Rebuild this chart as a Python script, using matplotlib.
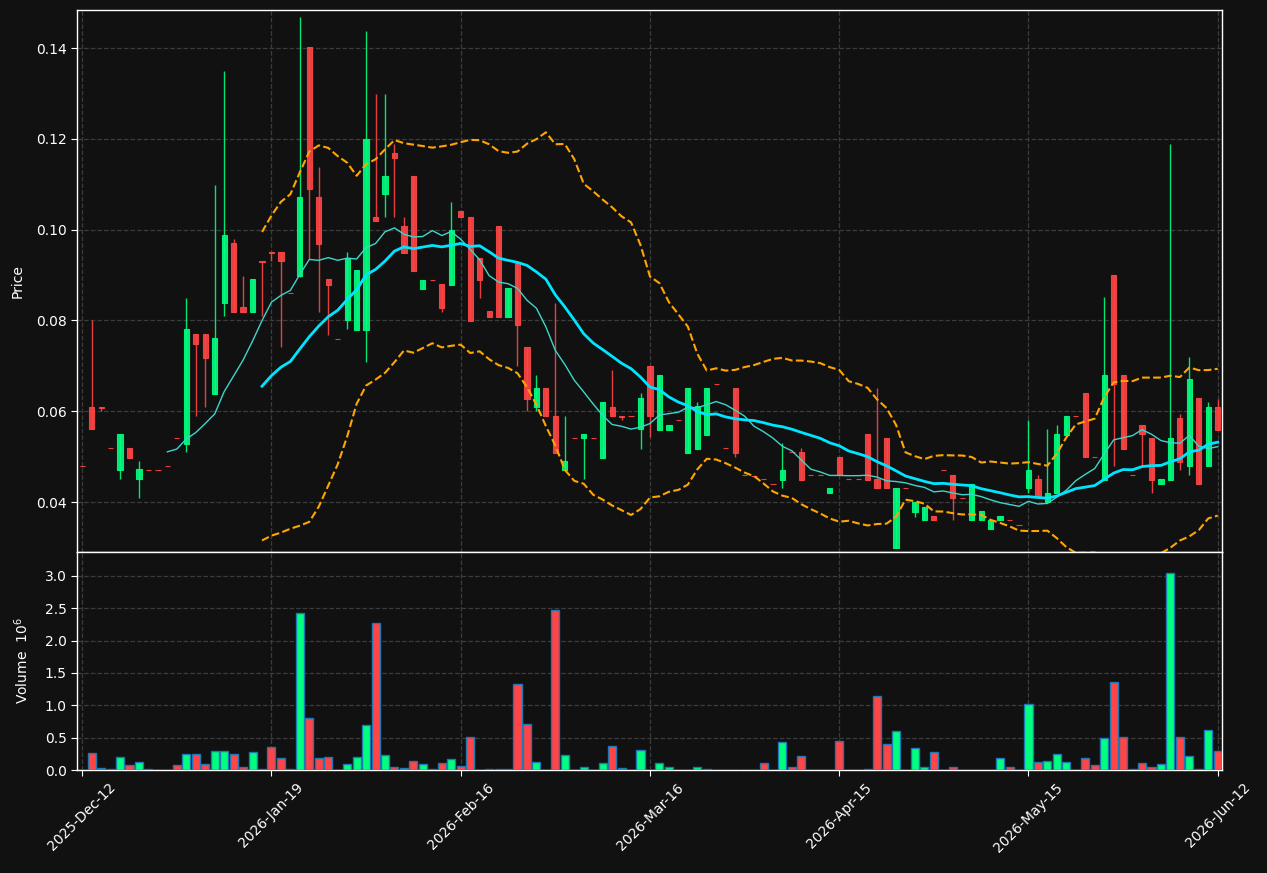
import numpy as np
import pandas as pd
import matplotlib
matplotlib.use("Agg")
import matplotlib.pyplot as plt

# OHLC (price) and volume (millions), one entry per session
opens = [0.0480, 0.0610, 0.0609, 0.0519, 0.0470, 0.0520, 0.0450, 0.0471, 0.0471, 0.0479,
         0.0541, 0.0529, 0.0770, 0.0770, 0.0639, 0.0839, 0.0970, 0.0830, 0.0819, 0.0931,
         0.0950, 0.0950, 0.0860, 0.0899, 0.1402, 0.1071, 0.0891, 0.0760, 0.0800, 0.0779,
         0.0779, 0.1029, 0.1079, 0.1170, 0.1008, 0.1118, 0.0870, 0.0890, 0.0880, 0.0879,
         0.1041, 0.1029, 0.0938, 0.0821, 0.1008, 0.0808, 0.0928, 0.0741, 0.0609, 0.0651,
         0.0590, 0.0470, 0.0541, 0.0541, 0.0541, 0.0498, 0.0610, 0.0590, 0.0590, 0.0560,
         0.0699, 0.0559, 0.0559, 0.0581, 0.0509, 0.0517, 0.0548, 0.0660, 0.0519, 0.0652,
         0.0459, 0.0457, 0.0450, 0.0440, 0.0449, 0.0511, 0.0511, 0.0459, 0.0459, 0.0419,
         0.0500, 0.0451, 0.0451, 0.0550, 0.0451, 0.0542, 0.0298, 0.0431, 0.0379, 0.0360,
         0.0370, 0.0470, 0.0459, 0.0409, 0.0360, 0.0360, 0.0341, 0.0360, 0.0360, 0.0349,
         0.0430, 0.0451, 0.0400, 0.0419, 0.0548, 0.0590, 0.0640, 0.0499, 0.0449, 0.0901,
         0.0680, 0.0459, 0.0570, 0.0542, 0.0439, 0.0449, 0.0585, 0.0479, 0.0630, 0.0479,
         0.0610]
highs = [0.0480, 0.0800, 0.0609, 0.0519, 0.0550, 0.0520, 0.0491, 0.0471, 0.0471, 0.0479,
         0.0541, 0.0850, 0.0770, 0.0770, 0.1099, 0.1349, 0.0980, 0.0899, 0.0891, 0.0931,
         0.0950, 0.0950, 0.0860, 0.1468, 0.1402, 0.1138, 0.0891, 0.0760, 0.0950, 0.0911,
         0.1438, 0.1299, 0.1299, 0.1188, 0.1028, 0.1118, 0.0890, 0.0890, 0.0880, 0.1060,
         0.1041, 0.1029, 0.0938, 0.0821, 0.1008, 0.0871, 0.0928, 0.0741, 0.0680, 0.0651,
         0.0838, 0.0590, 0.0541, 0.0550, 0.0541, 0.0621, 0.0690, 0.0590, 0.0590, 0.0640,
         0.0699, 0.0680, 0.0570, 0.0581, 0.0652, 0.0620, 0.0652, 0.0660, 0.0519, 0.0652,
         0.0459, 0.0457, 0.0450, 0.0440, 0.0530, 0.0511, 0.0519, 0.0459, 0.0459, 0.0432,
         0.0500, 0.0451, 0.0451, 0.0550, 0.0651, 0.0542, 0.0432, 0.0431, 0.0401, 0.0390,
         0.0370, 0.0470, 0.0459, 0.0409, 0.0440, 0.0380, 0.0360, 0.0370, 0.0360, 0.0349,
         0.0581, 0.0459, 0.0561, 0.0570, 0.0590, 0.0590, 0.0640, 0.0499, 0.0851, 0.0901,
         0.0680, 0.0459, 0.0570, 0.0542, 0.0451, 0.1189, 0.0595, 0.0719, 0.0630, 0.0620,
         0.0628]
lows = [0.0480, 0.0560, 0.0600, 0.0519, 0.0451, 0.0498, 0.0409, 0.0471, 0.0471, 0.0479,
        0.0541, 0.0510, 0.0590, 0.0609, 0.0639, 0.0810, 0.0819, 0.0819, 0.0819, 0.0810,
        0.0931, 0.0741, 0.0860, 0.0895, 0.0936, 0.0819, 0.0769, 0.0760, 0.0781, 0.0779,
        0.0709, 0.1019, 0.1028, 0.1028, 0.0949, 0.0909, 0.0870, 0.0890, 0.0819, 0.0879,
        0.1028, 0.0798, 0.0850, 0.0808, 0.0808, 0.0808, 0.0699, 0.0600, 0.0600, 0.0589,
        0.0508, 0.0470, 0.0541, 0.0451, 0.0541, 0.0498, 0.0589, 0.0581, 0.0590, 0.0518,
        0.0543, 0.0559, 0.0559, 0.0581, 0.0509, 0.0517, 0.0548, 0.0660, 0.0519, 0.0499,
        0.0459, 0.0457, 0.0450, 0.0440, 0.0430, 0.0511, 0.0449, 0.0459, 0.0459, 0.0419,
        0.0459, 0.0451, 0.0451, 0.0449, 0.0430, 0.0430, 0.0298, 0.0431, 0.0368, 0.0360,
        0.0360, 0.0470, 0.0360, 0.0409, 0.0360, 0.0360, 0.0341, 0.0360, 0.0360, 0.0349,
        0.0419, 0.0412, 0.0400, 0.0419, 0.0548, 0.0590, 0.0499, 0.0499, 0.0449, 0.0479,
        0.0518, 0.0459, 0.0479, 0.0419, 0.0439, 0.0449, 0.0470, 0.0459, 0.0439, 0.0479,
        0.0559]
closes = [0.0480, 0.0560, 0.0607, 0.0519, 0.0550, 0.0498, 0.0472, 0.0471, 0.0471, 0.0479,
          0.0541, 0.0781, 0.0749, 0.0718, 0.0761, 0.0989, 0.0819, 0.0819, 0.0891, 0.0929,
          0.0948, 0.0930, 0.0860, 0.1071, 0.1089, 0.0969, 0.0879, 0.0760, 0.0938, 0.0911,
          0.1200, 0.1019, 0.1118, 0.1157, 0.0949, 0.0909, 0.0890, 0.0890, 0.0828, 0.1000,
          0.1028, 0.0798, 0.0889, 0.0808, 0.0808, 0.0871, 0.0789, 0.0628, 0.0651, 0.0589,
          0.0508, 0.0491, 0.0541, 0.0550, 0.0541, 0.0621, 0.0589, 0.0588, 0.0590, 0.0630,
          0.0589, 0.0680, 0.0570, 0.0581, 0.0652, 0.0611, 0.0652, 0.0660, 0.0519, 0.0509,
          0.0459, 0.0457, 0.0450, 0.0440, 0.0471, 0.0511, 0.0449, 0.0459, 0.0459, 0.0432,
          0.0459, 0.0451, 0.0451, 0.0449, 0.0430, 0.0430, 0.0432, 0.0431, 0.0401, 0.0390,
          0.0360, 0.0470, 0.0408, 0.0409, 0.0440, 0.0380, 0.0360, 0.0370, 0.0360, 0.0349,
          0.0470, 0.0412, 0.0420, 0.0550, 0.0590, 0.0590, 0.0499, 0.0499, 0.0680, 0.0660,
          0.0518, 0.0459, 0.0550, 0.0449, 0.0451, 0.0542, 0.0489, 0.0672, 0.0439, 0.0610,
          0.0559]
volumes = [0.000, 0.260, 0.036, 0.020, 0.196, 0.072, 0.119, 0.010, 0.000, 0.000,
           0.072, 0.243, 0.243, 0.088, 0.289, 0.289, 0.243, 0.052, 0.274, 0.010,
           0.351, 0.181, 0.020, 2.426, 0.800, 0.181, 0.196, 0.000, 0.088, 0.196,
           0.692, 2.270, 0.227, 0.041, 0.026, 0.139, 0.088, 0.010, 0.103, 0.165,
           0.057, 0.506, 0.000, 0.020, 0.020, 0.010, 1.327, 0.707, 0.119, 0.000,
           2.473, 0.227, 0.000, 0.052, 0.005, 0.103, 0.367, 0.026, 0.005, 0.305,
           0.000, 0.103, 0.052, 0.000, 0.000, 0.041, 0.010, 0.000, 0.005, 0.005,
           0.005, 0.000, 0.103, 0.000, 0.430, 0.041, 0.210, 0.000, 0.000, 0.000,
           0.445, 0.000, 0.000, 0.010, 1.140, 0.400, 0.600, 0.000, 0.336, 0.041,
           0.274, 0.000, 0.052, 0.000, 0.005, 0.005, 0.005, 0.180, 0.052, 0.000,
           1.017, 0.119, 0.134, 0.243, 0.119, 0.000, 0.180, 0.072, 0.490, 1.358,
           0.506, 0.020, 0.103, 0.041, 0.088, 3.046, 0.516, 0.210, 0.020, 0.614,
           0.289]
tick_labels = ['2025-Dec-12', '2026-Jan-19', '2026-Feb-16', '2026-Mar-16',
               '2026-Apr-15', '2026-May-15', '2026-Jun-12']

BG = '#111111'
UP, DOWN = '#00ff7f', '#ff4545'
GRID = '#3c3c3c'

df = pd.DataFrame(dict(Open=opens, High=highs, Low=lows, Close=closes, Volume=volumes))
x = np.arange(len(df))
mav10 = df.Close.rolling(10).mean()
mav20 = df.Close.rolling(20).mean()
sd20 = df.Close.rolling(20).std(ddof=0)
upper, lower = mav20 + 2 * sd20, mav20 - 2 * sd20

up = df.Close > df.Open
colors = np.where(up, UP, DOWN)

fig = plt.figure(figsize=(12.67, 8.73), dpi=100, facecolor=BG)
W, H = 1267, 873
ax = fig.add_axes([77 / W, 1 - 552 / H, 1145 / W, 542 / H], facecolor=BG)
axv = fig.add_axes([77 / W, 1 - 770 / H, 1145 / W, 218 / H], facecolor=BG, sharex=ax)

# candles
ax.vlines(x, df.Low, df.High, colors=colors, lw=1, alpha=0.9, zorder=2)
body_lo = np.minimum(df.Open, df.Close)
body_h = (df.Close - df.Open).abs()
ax.bar(x, body_h, bottom=body_lo, width=0.55, color=colors, edgecolor=colors,
       lw=0.8, alpha=0.9, zorder=3)

# moving averages + bands
ax.plot(x, mav10, color='#3dd6cb', lw=1.0, zorder=4)
ax.plot(x, mav20, color='#00e5ff', lw=2.0, zorder=4)
ax.plot(x, upper, color='#ffa500', lw=1.5, ls='--', zorder=4)
ax.plot(x, lower, color='#ffa500', lw=1.5, ls='--', zorder=4)

# volume
axv.bar(x, df.Volume, width=0.85, color=colors, edgecolor='#1f77b4', lw=1, zorder=3)

ax.set_xlim(-0.55, 120.45)
ax.set_ylim(0.0290, 0.1484)
axv.set_ylim(0, 3.371)
ax.set_yticks([0.04, 0.06, 0.08, 0.10, 0.12, 0.14])
ax.set_yticklabels(['0.04', '0.06', '0.08', '0.10', '0.12', '0.14'])
axv.set_yticks([0, 0.5, 1.0, 1.5, 2.0, 2.5, 3.0])
axv.set_yticklabels(['0.0', '0.5', '1.0', '1.5', '2.0', '2.5', '3.0'])
ticks = np.arange(0, len(df), 20)
axv.set_xticks(ticks)
axv.set_xticklabels(tick_labels, rotation=45, ha='center')
plt.setp(ax.get_xticklabels(), visible=False)

for a in (ax, axv):
    a.grid(True, ls='--', color=GRID, lw=0.9, zorder=0)
    a.set_axisbelow(True)
    for s in a.spines.values():
        s.set_color('white')
        s.set_linewidth(1)
    a.tick_params(colors='white', labelsize=10, length=4)

ax.tick_params(axis='x', length=0)
ax.set_ylabel('Price', color='white', fontsize=10)
ax.yaxis.set_label_coords(-0.046, 0.5)
axv.set_ylabel('Volume  $10^{6}$', color='white', fontsize=10)
axv.yaxis.set_label_coords(-0.040, 0.5)

fig.savefig('out.png', dpi=100, facecolor=BG)
